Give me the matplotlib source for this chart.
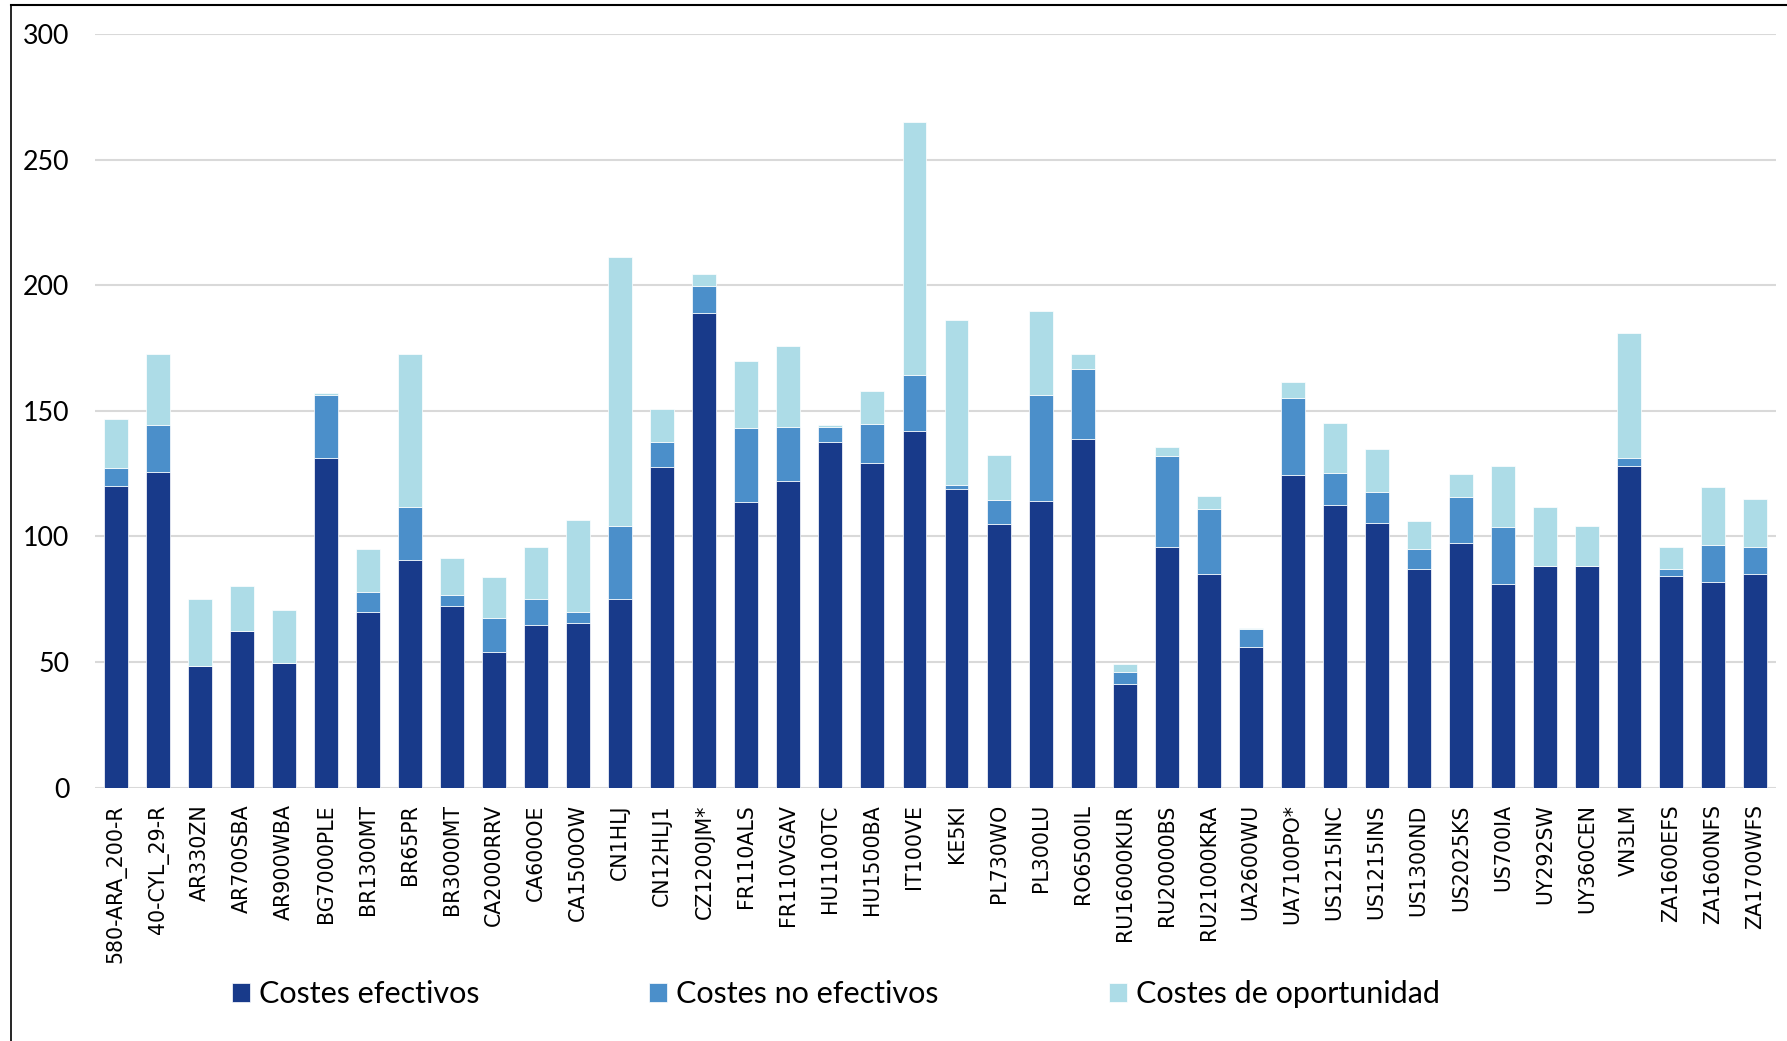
import numpy as np
import matplotlib
matplotlib.use("Agg")
import matplotlib.pyplot as plt
from matplotlib.lines import Line2D

plantas = ["580-ARA_200-R", "40-CYL_29-R", "AR330ZN", "AR700SBA", "AR900WBA",
           "BG7000PLE", "BR1300MT", "BR65PR", "BR3000MT", "CA2000RRV",
           "CA600OE", "CA1500OW", "CN1HLJ", "CN12HLJ1", "CZ1200JM*",
           "FR110ALS", "FR110VGAV", "HU1100TC", "HU1500BA", "IT100VE",
           "KE5KI", "PL730WO", "PL300LU", "RO6500IL", "RU16000KUR",
           "RU20000BS", "RU21000KRA", "UA2600WU", "UA7100PO*", "US1215INC",
           "US1215INS", "US1300ND", "US2025KS", "US700IA", "UY292SW",
           "UY360CEN", "VN3LM", "ZA1600EFS", "ZA1600NFS", "ZA1700WFS"]

costes_efectivos = [120.2, 125.5, 48.5, 62.5, 49.7, 131.1, 70.1, 90.8, 72.5, 54.1,
                    64.9, 65.6, 75.0, 127.5, 188.9, 113.6, 122.3, 137.5, 129.3, 141.9,
                    119.1, 104.8, 114.1, 138.7, 41.1, 96.0, 85.2, 56.1, 124.3, 112.4,
                    105.2, 87.0, 97.6, 81.2, 88.3, 88.3, 127.9, 84.4, 82.0, 85.2]
costes_no_efectivos = [7.2, 18.9, 0, 0, 0, 25.4, 7.6, 20.8, 4.2, 13.3,
                       10.1, 4.3, 29.0, 10.0, 10.7, 29.5, 21.5, 6.3, 15.6, 22.6,
                       1.5, 9.8, 42.4, 27.9, 5.0, 35.9, 25.8, 7.1, 30.8, 13.0,
                       12.6, 8.1, 18.0, 22.4, 0, 0, 3.2, 2.7, 14.5, 10.8]
costes_oportunidad = [19.5, 28.3, 26.5, 17.6, 21.0, 0.7, 17.5, 61.1, 14.8, 16.5,
                      20.9, 36.7, 107.4, 13.3, 5.0, 27.0, 32.1, 0.8, 12.9, 100.5,
                      65.6, 17.8, 33.5, 6.3, 3.2, 3.7, 5.1, 0.5, 6.5, 19.8,
                      17.2, 10.9, 9.3, 24.5, 23.4, 15.8, 50.0, 8.8, 23.3, 18.9]

series = ["Costes efectivos", "Costes no efectivos", "Costes de oportunidad"]
colores = ["#183a8a", "#4b8fca", "#addce7"]

fig = plt.figure(figsize=(17.87, 10.41), dpi=100)
ax = fig.add_axes([0.0532, 0.2435, 0.9406, 0.7234])

x = np.arange(len(plantas))
base = np.zeros(len(plantas))
for nombre, vals, c in zip(series, [costes_efectivos, costes_no_efectivos, costes_oportunidad], colores):
    vals = np.array(vals)
    ax.bar(x, vals, 0.57, bottom=base, color=c, edgecolor="white", linewidth=0.5, label=nombre, zorder=3)
    base = base + vals

ax.set_xlim(-0.5, len(plantas) - 0.5)
ax.set_ylim(0, 300)
ax.set_yticks([0, 50, 100, 150, 200, 250, 300])
ax.yaxis.grid(True, color="#d9d9d9", linewidth=1.5, zorder=0)
for s in ax.spines.values():
    s.set_visible(False)
ax.tick_params(axis="both", length=0)
ax.tick_params(axis="y", pad=18.5)
ax.tick_params(axis="x", pad=12)
for t in ax.get_yticklabels():
    t.set_fontfamily("Lato")
    t.set_fontsize(19.3)
ax.set_xticks(x)
ax.set_xticklabels(plantas, rotation=90, fontsize=14.8, family="DejaVu Sans")

fig.legend(loc="center left", bbox_to_anchor=(232 / 1787, 0.0451), ncol=3, frameon=False,
           borderpad=0, borderaxespad=0, handlelength=0.59, handleheight=0.59, handletextpad=0.3,
           columnspacing=5.55, prop={"family": "Lato", "size": 22})

# marco superior e izquierdo
fig.add_artist(Line2D([0.00616, 0.00616], [0, 0.9952], transform=fig.transFigure, color="black", linewidth=1.2))
fig.add_artist(Line2D([0.00616, 1], [0.9952, 0.9952], transform=fig.transFigure, color="black", linewidth=1.5))

fig.savefig("out.png", dpi=100)
